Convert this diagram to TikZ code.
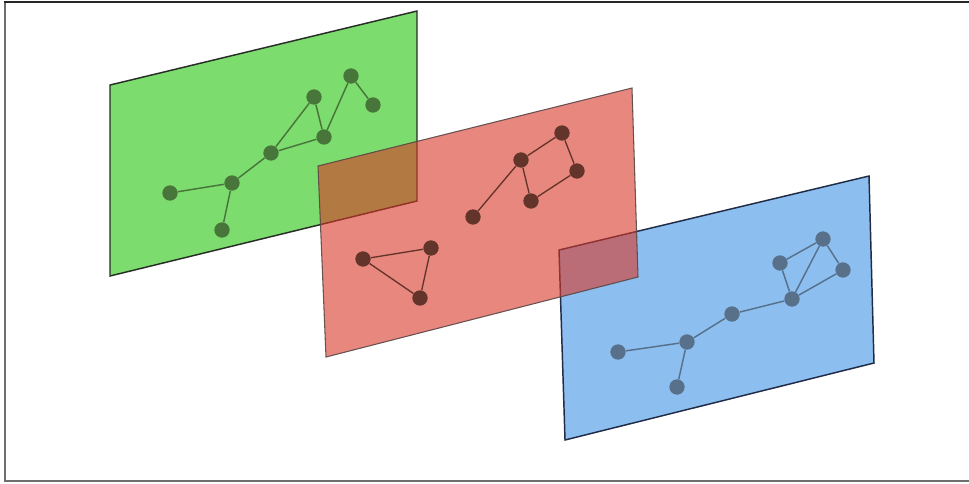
\documentclass[tikz,border=0pt]{standalone}
\begin{document}
\begin{tikzpicture}[x=0.75pt,y=-0.75pt,
  plane/.style={line width=1.1pt, fill opacity=0.6, draw opacity=0.9},
  vtx/.style={circle, inner sep=0pt, minimum size=11.5pt, draw=none},
  gv/.style={vtx, fill=gnode},
  rv/.style={vtx, fill=rnode},
  bv/.style={vtx, fill=bnode},
  ge/.style={draw=gnode, line width=1.1pt},
  re/.style={draw=rnode, line width=1.0pt},
  be/.style={draw=bnode, line width=1.1pt}]
\definecolor{gfill}{RGB}{38,197,13}
\definecolor{rfill}{RGB}{217,55,38}
\definecolor{bfill}{RGB}{63,147,230}
\definecolor{gnode}{RGB}{72,118,58}
\definecolor{rnode}{RGB}{98,52,42}
\definecolor{bnode}{RGB}{88,112,138}
\definecolor{frame}{RGB}{110,110,110}
\useasboundingbox (0,0) rectangle (969,483);
% frame
\draw[frame, line width=1.5pt] (5,1.5) -- (5,481);
\draw[frame, line width=1.5pt] (4,481) -- (969,481);
\draw[black!85, line width=1.5pt] (4,1.5) -- (969,1.5);

% green plane
\draw[plane, fill=gfill, draw=black!90] (110,85) -- (417,11) -- (417,201) -- (110,276) -- cycle;
\node[gv] (g1) at (170,193) {};
\node[gv] (g2) at (232,183) {};
\node[gv] (g3) at (222,230) {};
\node[gv] (g4) at (271,153) {};
\node[gv] (g5) at (314,97) {};
\node[gv] (g6) at (324,137) {};
\node[gv] (g7) at (351,76) {};
\node[gv] (g8) at (373,105) {};
\path[ge] (g1) -- (g2) (g2) -- (g3) (g2) -- (g4) (g4) -- (g5) (g4) -- (g6) (g5) -- (g6) (g6) -- (g7) (g7) -- (g8);

% blue plane
\draw[plane, fill=bfill, draw={rgb,255:red,15;green,25;blue,50}] (559,250) -- (869,176) -- (874,363) -- (565,440) -- cycle;
\node[bv] (b1) at (618,352) {};
\node[bv] (b2) at (687,342) {};
\node[bv] (b3) at (677,387) {};
\node[bv] (b4) at (732,314) {};
\node[bv] (b5) at (792,299) {};
\node[bv] (b6) at (780,263) {};
\node[bv] (b7) at (823,239) {};
\node[bv] (b8) at (843,270) {};
\path[be] (b1) -- (b2) (b2) -- (b3) (b2) -- (b4) (b4) -- (b5) (b5) -- (b6) (b5) -- (b7) (b6) -- (b7) (b5) -- (b8) (b7) -- (b8);

% red plane
\draw[plane, fill=rfill, draw={rgb,255:red,90;green,70;blue,70}, line width=0.8pt] (318,166) -- (632,88) -- (638,277) -- (326,357) -- cycle;
\node[rv] (r1) at (363,259) {};
\node[rv] (r2) at (431,248) {};
\node[rv] (r3) at (420,298) {};
\node[rv] (r4) at (473,217) {};
\node[rv] (r5) at (521,160) {};
\node[rv] (r6) at (562,133) {};
\node[rv] (r7) at (577,171) {};
\node[rv] (r8) at (531,201) {};
\path[re] (r1) -- (r2) (r1) -- (r3) (r2) -- (r3) (r4) -- (r5) (r5) -- (r6) (r6) -- (r7) (r7) -- (r8) (r8) -- (r5);
\end{tikzpicture}
\end{document}
